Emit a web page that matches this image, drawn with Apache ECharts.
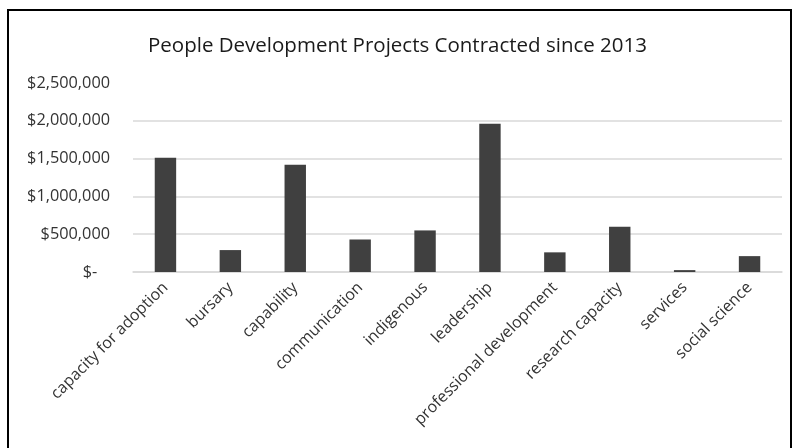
<!DOCTYPE html>
<html>
<head>
<meta charset="utf-8">
<script src="https://cdn.jsdelivr.net/npm/echarts@6/dist/echarts.min.js"></script>
<style>
html,body{margin:0;padding:0;background:#fff;}
#chart{width:795px;height:448px;}
</style>
</head>
<body>
<div id="chart"></div>
<script>
const titleText = 'People Development Projects Contracted since 2013';
const categories = ['capacity for adoption','bursary','capability','communication','indigenous','leadership','professional development','research capacity','services','social science'];
const amounts = [1510000, 290000, 1420000, 430000, 550000, 1960000, 260000, 600000, 25000, 210000];
const yTicks = [0, 500000, 1000000, 1500000, 2000000, 2500000];

const chart = echarts.init(document.getElementById('chart'));
const font = '"Open Sans", "Noto Sans", sans-serif';
function fmt(v){
  if (v === 0) return '$-   ';
  return '$' + v.toLocaleString('en-US');
}
chart.setOption({
  animation: false,
  backgroundColor: '#ffffff',
  graphic: [{
    type: 'rect',
    shape: {x: 8, y: 10, width: 783, height: 460},
    style: {fill: 'none', stroke: '#000', lineWidth: 2},
    silent: true
  }],
  title: {
    text: titleText,
    left: 'center',
    top: 31,
    textStyle: {fontFamily: font, fontSize: 20.5, fontWeight: 'normal', color: '#1a1a1a'}
  },
  grid: {left: 133, right: 13, top: 83, bottom: 176, containLabel: false},
  xAxis: {
    type: 'category',
    data: categories,
    axisLine: {show: true, lineStyle: {color: '#d9d9d9', width: 1.5}},
    axisTick: {show: false},
    axisLabel: {rotate: 45, margin: 13, interval: 0, fontFamily: font, fontSize: 16, color: '#333'}
  },
  yAxis: {
    type: 'value',
    min: yTicks[0],
    max: yTicks[yTicks.length - 1],
    interval: yTicks[1] - yTicks[0],
    axisLine: {show: false},
    axisTick: {show: false},
    splitLine: {show: true, showMaxLine: false, lineStyle: {color: '#d9d9d9', width: 1.5}},
    axisLabel: {margin: 23, fontFamily: font, fontSize: 16.3, color: '#333', formatter: fmt}
  },
  series: [{
    type: 'bar',
    data: amounts,
    barWidth: '33%',
    itemStyle: {color: '#404040'}
  }]
});
</script>
</body>
</html>
